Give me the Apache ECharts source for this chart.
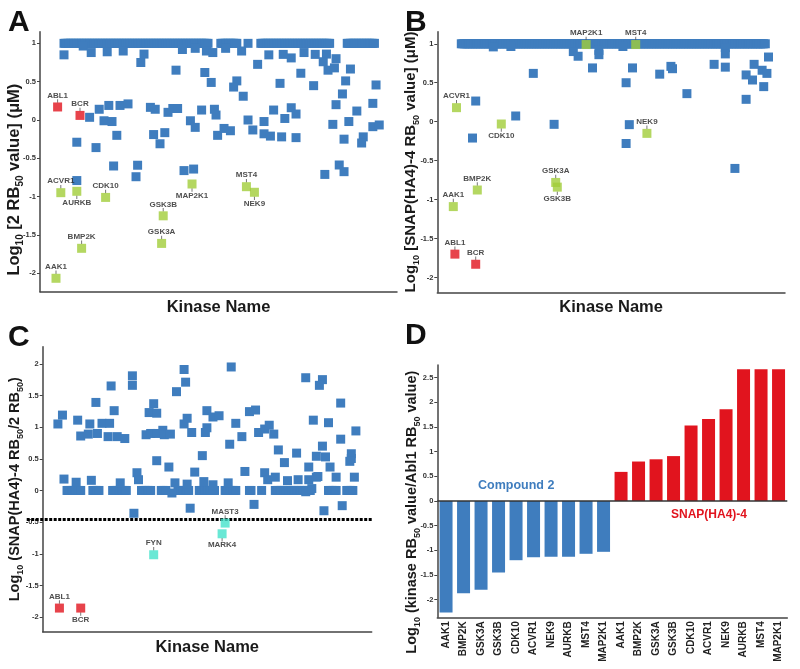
<!DOCTYPE html>
<html><head><meta charset="utf-8">
<script src="https://cdn.jsdelivr.net/npm/echarts@6/dist/echarts.min.js"></script>
<style>html,body{margin:0;padding:0;background:#fff}#c{width:800px;height:669px}</style>
</head><body><div id="c"></div>
<script>
// ---------- Panel A : log10 RB50 of compound 2 (uM); x = kinase index (alphabetical order)
const aTop = [6,7,8,9,10,11,12,13,14,15,16,17,18,19,20,21,22,23,24,25,26,27,28,29,30,31,32,33,34,35,36,37,38,39,40,41,42,43,44,45,46,47,48,49,50,51,52,53,54,55,56,57,58,59,60,61,62,63,64,65,66,67,68,69,70,71,72,73,74,75,76,77,78,79,80,81,82,83,84,85,86,87,88,89,90,91,92,93,94,95,96,
  104,105,106,107,108,109,110,111,112,113,114,121,
  129,130,131,132,133,134,135,136,137,138,139,140,141,142,143,144,145,146,147,148,149,150,151,152,153,154,155,156,157,158,159,160,161,162,163,164,165,166,167,168,169,170,171,172,
  183,184,185,186,187,188,189,190,191,192,193,194,195,196,197,198,199,200];
const aCap = 1;
const aOther = [[6,0.85],[18,0.965],[23,0.88],[33,0.89],[43,0.90],[56,0.86],[54,0.75],[80,0.92],[88,0.935],[95,0.90],[99,0.88],[76,0.65],[94,0.62],[98,0.49],
  [28,0.14],[22,0.035],[34,0.19],[41,0.19],[46,0.21],[31,-0.01],[36,-0.02],[39,-0.20],[14,-0.29],[26,-0.36],
  [60,0.165],[63,0.14],[71,0.10],[74,0.15],[77,0.15],[92,0.13],[100,0.14],[101,0.065],[85,-0.01],[88,-0.096],[62,-0.19],[69,-0.165],[66,-0.31],[102,-0.20],
  [37,-0.60],[52,-0.59],[51,-0.74],[14,-0.79],[81,-0.66],[87,-0.64],
  [107,0.935],[117,0.90],[134,0.85],[143,0.856],[148,0.81],[156,0.88],[163,0.856],[170,0.86],[168,0.76],[176,0.80],[171,0.65],[175,0.68],[185,0.665],[127,0.726],[154,0.61],[182,0.51],[201,0.457],[141,0.478],[162,0.448],[114,0.51],[112,0.43],[118,0.31],[180,0.34],[176,0.20],[199,0.217],[189,0.117],[137,0.13],[148,0.16],[151,0.078],[144,0.02],[131,-0.02],[121,0.0],
  [174,-0.057],[184,-0.02],[199,-0.087],[203,-0.065],[106,-0.11],[110,-0.14],[124,-0.13],[131,-0.18],[135,-0.21],[142,-0.22],[151,-0.23],[181,-0.25],[193,-0.22],[192,-0.30],
  [178,-0.587],[181,-0.674],[169,-0.71]];
const aHitNames = ['AAK1','ABL1','ACVR1','AURKB','BCR','BMP2K','CDK10','GSK3A','GSK3B','MAP2K1','MST4','NEK9'];
const aHitIdx   = [1,2,4,14,16,17,32,67,68,86,120,125];
const aHitVals  = [-2.065,0.17,-0.948,-0.93,0.06,-1.674,-1.01,-1.61,-1.25,-0.835,-0.87,-0.943];

// ---------- Panel B : log10 RB50 of SNAP(HA4)-4 (uM)
const bTop = [6,7,8,9,10,11,12,13,14,15,16,17,18,19,20,21,22,23,24,25,26,27,28,29,30,31,32,33,34,35,36,37,38,39,40,41,42,43,44,45,46,47,48,49,50,51,52,53,54,55,56,57,58,59,60,61,62,63,64,65,66,67,68,69,70,71,72,73,74,75,76,77,78,79,80,81,82,83,84,85,86,87,88,89,90,91,92,93,94,95,96,97,98,99,100,
  101,102,103,104,105,106,107,108,109,110,111,112,113,114,115,116,117,118,119,120,121,122,123,124,125,126,127,128,129,130,131,132,133,134,135,136,137,138,139,140,141,142,143,144,145,146,147,148,149,150,
  151,152,153,154,155,156,157,158,159,160,161,162,163,164,165,166,167,168,169,170,171,172,173,174,175,176,177,178,179,180,181,182,183,184,185,186,187,188,189,190,191,192,193,194,195,196];
const bCap = 1;
const bOther = [[26,0.96],[37,0.965],[76,0.90],[79,0.84],[92,0.915],[92,0.86],[107,0.965],[171,0.95],[171,0.87],[51,0.62],[88,0.69],[113,0.69],[137,0.71],[138,0.68],[130,0.61],[164,0.736],[171,0.70],[189,0.736],[198,0.83],[194,0.66],[197,0.62],[184,0.60],[188,0.535],[195,0.45],[109,0.50],[147,0.36],[184,0.287],[15,0.265],[40,0.073],[64,-0.034],[111,-0.038],[13,-0.21],[109,-0.28],[177,-0.60]];
const bHitNames = ['AAK1','ABL1','ACVR1','BCR','BMP2K','CDK10','GSK3A','GSK3B','MAP2K1','MST4','NEK9'];
const bHitIdx   = [1,2,3,15,16,31,65,66,84,115,122];
const bHitVals  = [-1.09,-1.70,0.18,-1.83,-0.877,-0.03,-0.78,-0.84,0.99,0.99,-0.15];

// ---------- Panel C : log10 (SNAP(HA4)-4 RB50 / 2 RB50)
const cZero = [7,8,9,10,11,12,13,14,15,16,24,25,26,27,28,37,38,39,40,41,42,43,44,45,46,56,57,58,59,60,61,62,69,70,71,72,80,81,82,83,84,85,86,87,
  94,95,96,97,98,99,100,101,102,103,104,111,112,113,114,115,116,117,118,127,128,135,
  144,145,146,147,148,149,150,151,152,153,154,155,156,157,158,159,160,161,162,163,164,165,166,167,179,180,181,182,183,184,191,192,193,194,195];
const cOther = [[1,1.05],[4,1.19],[5,0.18],[14,1.11],[16,0.86],[26,1.39],[21,0.89],[27,0.90],[22,1.05],[30,1.06],[35,1.06],[36,1.65],[38,1.26],[34,0.85],[40,0.85],[45,0.82],[50,1.81],[50,1.66],[61,1.23],[64,1.37],[66,1.22],[59,0.88],[62,0.90],[66,0.90],[70,0.95],[71,0.88],[75,0.89],[79,1.56],[84,1.91],[85,1.71],[84,1.05],[86,1.14],[89,0.915],[99,1.26],[98,0.915],[99,0.99],[66,0.47],[74,0.37],[96,0.55],[91,0.29],
  [53,0.28],[54,0.17],[23,0.16],[13,0.13],[42,0.12],[78,0.12],[86,0.10],[97,0.14],[76,-0.04],[51,-0.36],[88,-0.28],
  [115,1.95],[164,1.78],[175,1.75],[173,1.66],[187,1.38],[103,1.16],[107,1.18],[127,1.245],[131,1.27],[118,1.06],[122,0.85],[114,0.73],[133,0.915],[137,0.97],[140,1.03],[143,0.89],[169,1.11],[179,1.07],[197,0.94],[187,0.81],[146,0.64],[150,0.44],[158,0.59],[175,0.70],[171,0.54],[177,0.53],[194,0.58],[194,0.505],[193,0.46],[166,0.37],[180,0.37],[124,0.30],[137,0.28],[139,0.17],[144,0.21],[152,0.155],[159,0.17],[166,0.17],[171,0.21],[172,0.22],[184,0.21],[196,0.21],[103,0.09],[113,0.12],[130,-0.22],[176,-0.32],[188,-0.24],[164,-0.02],[168,0.03]];
const cHitNames = ['ABL1','BCR','FYN','MARK4','MAST3'];
const cHitIdx   = [2,16,64,109,111];
const cHitVals  = [-1.857,-1.857,-1.015,-0.684,-0.515];
const cThreshold = -0.46;

// ---------- Panel D : log10 (kinase RB50 / Abl1 RB50)
const dKinases = ['AAK1','BMP2K','GSK3A','GSK3B','CDK10','ACVR1','NEK9','AURKB','MST4','MAP2K1'];
const dComp2 = [-2.26,-1.87,-1.80,-1.45,-1.20,-1.14,-1.13,-1.13,-1.07,-1.03];
const dSnap  = [0.59,0.80,0.845,0.91,1.53,1.66,1.86,2.67,2.67,2.67];

const tickAB = [-2,-1.5,-1,-0.5,0,0.5,1];
const tickC  = [-2,-1.5,-1,-0.5,0,0.5,1,1.5,2];
const tickD  = [-2,-1.5,-1,-0.5,0,0.5,1,1.5,2,2.5];

const targets = ['ABL1','BCR'];
const cyanHits = ['FYN','MARK4','MAST3'];
const labelBelow = {A:['AURKB','MAP2K1','NEK9'], B:['CDK10','GSK3B'], C:['BCR','MARK4']};

// ---------- styling
const FONT = '"Liberation Sans", Arial, Helvetica, sans-serif';
const BLUE='#3f7dbe', GREEN='#a1cd3a', RED='#e1141e', CYAN='#43e2cb', AX='#444', TXT='#1a1a1a';

function richName(size){
  return {
    m:{fontSize:size,fontWeight:'bold',color:TXT,fontFamily:FONT,lineHeight:Math.round(size*1.35),verticalAlign:'middle'},
    s:{fontSize:Math.round(size*0.62),fontWeight:'bold',color:TXT,fontFamily:FONT,verticalAlign:'bottom'}
  };
}
function yAx(gi,min,max,ticks,name,size,gap,shift){
  return {type:'value',gridIndex:gi,min:min,max:max,name:name,nameLocation:'middle',nameRotate:90,nameGap:gap,
    nameMoveOverlap:false,
    nameTextStyle:{padding:[0,shift*2,0,0],rich:richName(size)},
    axisLine:{show:true,onZero:false,lineStyle:{color:AX,width:1.5}},
    axisTick:{show:true,length:3,customValues:ticks,lineStyle:{color:AX,width:1}},
    axisLabel:{customValues:ticks,fontSize:7.5,fontWeight:'bold',color:'#333',margin:4,fontFamily:FONT},
    splitLine:{show:false}};
}
function xAx(gi,min,max,gap){
  return {type:'value',gridIndex:gi,min:min,max:max,name:'Kinase Name',nameLocation:'middle',nameGap:gap,
    nameMoveOverlap:false,
    nameTextStyle:{fontSize:16.5,fontWeight:'bold',color:TXT,fontFamily:FONT},
    axisLine:{show:true,onZero:false,lineStyle:{color:AX,width:1.5}},
    axisTick:{show:false},axisLabel:{show:false},splitLine:{show:false}};
}
function sq(gi,data,color,z){
  return {type:'scatter',xAxisIndex:gi,yAxisIndex:gi,symbol:'rect',symbolSize:9,data:data,z:z||2,
    itemStyle:{color:color,opacity:1},silent:true};
}
function isBelow(panel,n){ return labelBelow[panel].includes(n); }
function hits(panel,gi,names,idx,vals){
  const colorFor = n => targets.includes(n) ? RED : (cyanHits.includes(n) ? CYAN : GREEN);
  return {type:'scatter',xAxisIndex:gi,yAxisIndex:gi,symbol:'rect',symbolSize:9,z:5,silent:true,
    data:names.map((n,i)=>({name:n,value:[idx[i],vals[i]],itemStyle:{color:colorFor(n)},
      label:{position:isBelow(panel,n)?'bottom':'top'}})),
    label:{show:true,formatter:'{b}',distance:3,fontSize:8,fontWeight:'bold',color:'#222',fontFamily:FONT}};
}
// short leader ticks between each labelled square and its name
function leaders(panel,gi,names,idx,vals){
  return {type:'scatter',xAxisIndex:gi,yAxisIndex:gi,symbol:'rect',symbolSize:[1,3.5],z:4,silent:true,
    itemStyle:{color:'#555'},
    data:names.map((n,i)=>({value:[idx[i],vals[i]],symbolOffset:[0,isBelow(panel,n)?6:-6]}))};
}
const toPts = (idxs,v) => idxs.map(i=>[i,v]);
const letter = (t,l,tp) => ({text:t,left:l,top:tp,padding:0,textStyle:{fontSize:30,fontWeight:'bold',color:'#111',fontFamily:FONT}});

const option = {
  animation:false,
  textStyle:{fontFamily:FONT},
  title:[
    letter('A',8,8), letter('B',405,8), letter('C',8,323), letter('D',405,321),
    {text:'Compound 2',left:478,top:479,padding:0,textStyle:{fontSize:12.5,fontWeight:'bold',color:BLUE,fontFamily:FONT}},
    {text:'SNAP(HA4)-4',left:671,top:509,padding:0,textStyle:{fontSize:12,fontWeight:'bold',color:RED,fontFamily:FONT}}
  ],
  grid:[
    {left:40,top:31.7,width:357,height:260},
    {left:437.3,top:31.7,width:347.7,height:260.6},
    {left:42.7,top:346.7,width:329,height:285},
    {left:26.7,top:346.7,width:346,height:285},
    {left:437.3,top:365,width:350,height:252.3}
  ],
  xAxis:[
    xAx(0,-9,214.1,7),
    xAx(1,-9,208.3,7),
    xAx(2,-9,207.4,7),
    {type:'value',gridIndex:3,min:0,max:1,show:false},
    {type:'category',gridIndex:4,data:dKinases.concat(dKinases),
      axisLine:{show:true,onZero:false,lineStyle:{color:AX,width:1.5}},axisTick:{show:false},
      axisLabel:{interval:0,rotate:90,fontSize:10,fontWeight:'bold',color:'#222',margin:4,fontFamily:FONT}}
  ],
  yAxis:[
    yAx(0,-2.24,1.152,tickAB,'{m|Log}{s|10}{m| [2 RB}{s|50}{m| value] (μM)}',16.5,15,18),
    yAx(1,-2.19,1.155,tickAB,'{m|Log}{s|10}{m| [SNAP(HA4)-4 RB}{s|50}{m| value] (μM)}',15,16,0),
    yAx(2,-2.23,2.27,tickC,'{m|Log}{s|10}{m| (SNAP(HA4)-4 RB}{s|50}{m|/2 RB}{s|50}{m|)}',14.5,18,0),
    {type:'value',gridIndex:3,min:-2.23,max:2.27,show:false},
    yAx(4,-2.357,2.756,tickD,'{m|Log}{s|10}{m| (kinase RB}{s|50}{m| value/Abl1 RB}{s|50}{m| value)}',14.5,15,21)
  ],
  series:[
    sq(0,toPts(aTop,aCap),BLUE),
    sq(0,aOther,BLUE,3),
    leaders('A',0,aHitNames,aHitIdx,aHitVals),
    hits('A',0,aHitNames,aHitIdx,aHitVals),
    sq(1,toPts(bTop,bCap),BLUE),
    sq(1,bOther,BLUE,3),
    leaders('B',1,bHitNames,bHitIdx,bHitVals),
    hits('B',1,bHitNames,bHitIdx,bHitVals),
    {type:'line',xAxisIndex:3,yAxisIndex:3,data:[[0,cThreshold],[1,cThreshold]],symbol:'none',silent:true,z:1,
      lineStyle:{color:'#000',width:3,type:[3,1.5]}},
    sq(2,toPts(cZero,0),BLUE),
    sq(2,cOther,BLUE,3),
    leaders('C',2,cHitNames,cHitIdx,cHitVals),
    hits('C',2,cHitNames,cHitIdx,cHitVals),
    {type:'bar',xAxisIndex:4,yAxisIndex:4,barWidth:13,barGap:'-100%',silent:true,
      data:dComp2.concat(dSnap.map(()=>null)),itemStyle:{color:BLUE},
      markLine:{silent:true,symbol:'none',label:{show:false},lineStyle:{color:'#333',width:1.5,type:'solid'},data:[{yAxis:0}]}},
    {type:'bar',xAxisIndex:4,yAxisIndex:4,barWidth:13,barGap:'-100%',silent:true,
      data:dComp2.map(()=>null).concat(dSnap),itemStyle:{color:RED}}
  ]
};
const chart = echarts.init(document.getElementById('c'),null,{renderer:'canvas'});
chart.setOption(option);
</script></body></html>
